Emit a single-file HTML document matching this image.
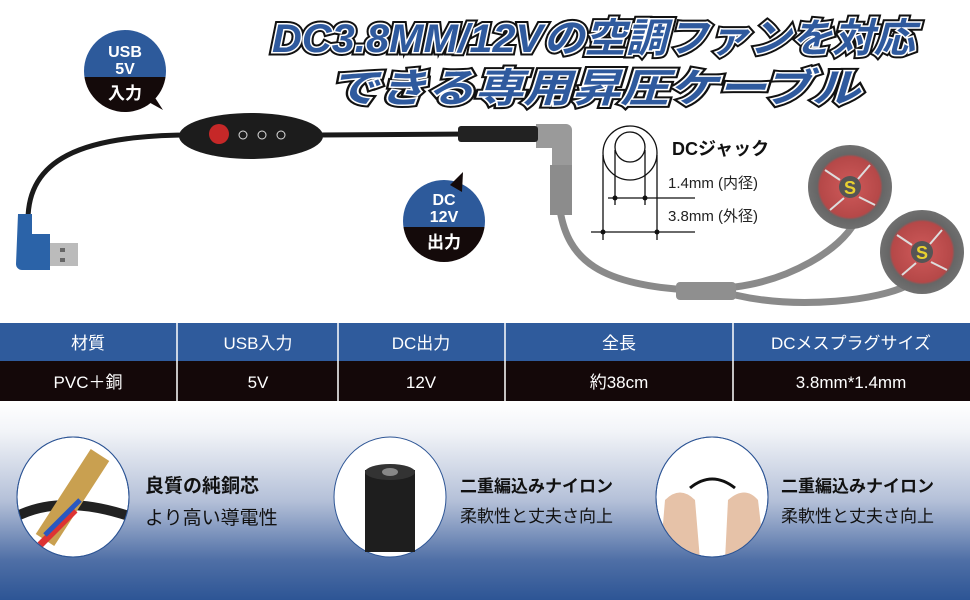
<!DOCTYPE html>
<html><head><meta charset="utf-8"><style>
html,body{margin:0;padding:0;background:#fff}
svg{display:block}
text{font-family:"Liberation Sans","Noto Sans CJK JP",sans-serif}
</style></head><body>
<svg width="970" height="600" viewBox="0 0 970 600" xmlns="http://www.w3.org/2000/svg">
<defs>
<linearGradient id="bg" x1="0" y1="0" x2="0" y2="1">
<stop offset="0" stop-color="#ffffff"/><stop offset="0.15" stop-color="#f2f4f8"/>
<stop offset="0.5" stop-color="#b4c0d8"/><stop offset="0.8" stop-color="#4f6fa6"/><stop offset="1" stop-color="#2d5595"/>
</linearGradient>
<clipPath id="c1"><circle cx="125" cy="71" r="41"/></clipPath>
<clipPath id="c2"><circle cx="444" cy="221" r="41"/></clipPath>
<clipPath id="e1"><ellipse cx="73" cy="497" rx="56" ry="60"/></clipPath>
<clipPath id="e3"><ellipse cx="712" cy="497" rx="56" ry="60"/></clipPath>
<radialGradient id="fan"><stop offset="0.2" stop-color="#c85555"/><stop offset="0.72" stop-color="#b54848"/><stop offset="0.78" stop-color="#666"/><stop offset="1" stop-color="#707070"/></radialGradient>
</defs>
<rect width="970" height="600" fill="#fff"/>
<rect y="402" width="970" height="198" fill="url(#bg)"/>

<!-- title -->
<g font-weight="bold" font-style="italic" fill="#2f5a9e" stroke="#fff" stroke-width="3" paint-order="stroke">
<text x="272" y="52" font-size="40" textLength="643" lengthAdjust="spacingAndGlyphs" style="paint-order:stroke;stroke:#111;stroke-width:7">DC3.8MM/12Vの空調ファンを対応</text>
<text x="272" y="52" font-size="40" textLength="643" lengthAdjust="spacingAndGlyphs">DC3.8MM/12Vの空調ファンを対応</text>
<text x="330" y="102" font-size="40" textLength="530" lengthAdjust="spacingAndGlyphs" style="paint-order:stroke;stroke:#111;stroke-width:7">できる専用昇圧ケーブル</text>
<text x="330" y="102" font-size="40" textLength="530" lengthAdjust="spacingAndGlyphs">できる専用昇圧ケーブル</text>
</g>

<!-- gray cable & fans -->
<g fill="none" stroke="#8a8a8a" stroke-width="7" stroke-linecap="round">
<path d="M560 210 C568 260 600 285 690 290"/>
<path d="M735 287 C790 280 840 250 855 222"/>
<path d="M735 295 C800 310 880 300 908 285"/>
</g>
<rect x="676" y="282" width="60" height="18" rx="4" fill="#8f8f8f"/>
<path d="M536 124 h30 a6 6 0 0 1 6 6 v80 h-20 v-62 h-16z" fill="#9a9a9a"/>
<rect x="550" y="165" width="22" height="50" fill="#8c8c8c"/>
<circle cx="850" cy="187" r="42" fill="url(#fan)"/>
<g stroke="#ddd" stroke-width="2" fill="none"><path d="M825 170 l15 10 M870 165 l-12 14 M830 210 l14 -12 M875 205 l-16 -8"/></g>
<circle cx="850" cy="187" r="11" fill="#555"/><text x="850" y="194" font-size="18" font-weight="bold" fill="#e8d030" text-anchor="middle">S</text>
<circle cx="922" cy="252" r="42" fill="url(#fan)"/>
<g stroke="#ddd" stroke-width="2" fill="none"><path d="M897 235 l15 10 M942 230 l-12 14 M902 275 l14 -12 M947 270 l-16 -8"/></g>
<circle cx="922" cy="252" r="11" fill="#555"/><text x="922" y="259" font-size="18" font-weight="bold" fill="#e8d030" text-anchor="middle">S</text>

<!-- black cable -->
<path d="M28 220 C28 160 80 136 185 135 M320 135 L470 134" fill="none" stroke="#1a1a1a" stroke-width="5"/>
<ellipse cx="251" cy="136" rx="72" ry="23" fill="#1c1c1c"/>
<circle cx="219" cy="134" r="10" fill="#c62828"/>
<circle cx="243" cy="135" r="4" fill="none" stroke="#ddd"/>
<circle cx="262" cy="135" r="4" fill="none" stroke="#ddd"/>
<circle cx="281" cy="135" r="4" fill="none" stroke="#ddd"/>
<rect x="458" y="126" width="80" height="16" rx="3" fill="#222"/>
<path d="M18 214 h14 v20 h18 v36 h-28 a6 6 0 0 1 -6 -6z" fill="#2b63a8"/>
<rect x="50" y="243" width="28" height="23" fill="#bbb"/>
<rect x="60" y="248" width="5" height="4" fill="#666"/><rect x="60" y="258" width="5" height="4" fill="#666"/>

<!-- badges -->
<g clip-path="url(#c1)"><rect x="80" y="25" width="100" height="52" fill="#2d5a9b"/><rect x="80" y="77" width="100" height="40" fill="#140a0a"/></g>
<path d="M145 100 L163 110 L150 90z" fill="#140a0a"/>
<g fill="#fff" font-weight="bold" text-anchor="middle"><text x="125" y="57" font-size="16">USB</text><text x="125" y="74" font-size="16">5V</text><text x="125" y="99" font-size="17">入力</text></g>
<g clip-path="url(#c2)"><rect x="400" y="178" width="90" height="49" fill="#2d5a9b"/><rect x="400" y="227" width="90" height="40" fill="#140a0a"/></g>
<path d="M450 185 L463 172 L462 192z" fill="#140a0a"/>
<g fill="#fff" font-weight="bold" text-anchor="middle"><text x="444" y="205" font-size="16">DC</text><text x="444" y="222" font-size="16">12V</text><text x="444" y="248" font-size="17">出力</text></g>

<!-- jack diagram -->
<g fill="none" stroke="#111" stroke-width="1.3">
<circle cx="630" cy="153" r="27"/><circle cx="630" cy="147" r="15"/>
<path d="M615 150 V205 M645 150 V205 M603 155 V240 M657 155 V240 M608 198 H695 M591 232 H695"/>
</g>
<g fill="#111"><circle cx="615" cy="198" r="2.5"/><circle cx="645" cy="198" r="2.5"/><circle cx="603" cy="232" r="2.5"/><circle cx="657" cy="232" r="2.5"/></g>
<text x="672" y="155" font-size="18" font-weight="bold" fill="#111">DCジャック</text>
<text x="668" y="188" font-size="15" fill="#222">1.4mm (内径)</text>
<text x="668" y="221" font-size="15" fill="#222">3.8mm (外径)</text>

<!-- table -->
<rect x="0" y="323" width="970" height="38" fill="#2f5b9c"/>
<rect x="0" y="361" width="970" height="40" fill="#140809"/>
<g stroke="#fff" stroke-width="1.5"><path d="M177 323V401 M338 323V401 M505 323V401 M733 323V401"/></g>
<g fill="#fff" font-size="17" text-anchor="middle">
<text x="88" y="349">材質</text><text x="258" y="349">USB入力</text><text x="421" y="349">DC出力</text><text x="619" y="349">全長</text><text x="851" y="349">DCメスプラグサイズ</text>
<text x="88" y="388">PVC＋銅</text><text x="258" y="388">5V</text><text x="421" y="388">12V</text><text x="619" y="388">約38cm</text><text x="851" y="388">3.8mm*1.4mm</text>
</g>

<!-- feature circles -->
<ellipse cx="73" cy="497" rx="56" ry="60" fill="#fff" stroke="#2d5595"/>
<g clip-path="url(#e1)">
<path d="M10 520 Q60 490 140 520" stroke="#222" stroke-width="10" fill="none"/>
<path d="M45 540 L100 455" stroke="#c9a050" stroke-width="22"/>
<path d="M40 545 L75 510" stroke="#d33" stroke-width="7"/>
<path d="M45 535 L80 500" stroke="#2a58c0" stroke-width="5"/>
</g>
<ellipse cx="73" cy="497" rx="56" ry="60" fill="none" stroke="#2d5595"/>
<ellipse cx="390" cy="497" rx="56" ry="60" fill="#fff" stroke="#2d5595"/>
<rect x="365" y="470" width="50" height="82" fill="#1e1e1e"/>
<ellipse cx="390" cy="472" rx="25" ry="8" fill="#333"/>
<ellipse cx="390" cy="472" rx="8" ry="4" fill="#888"/>
<ellipse cx="712" cy="497" rx="56" ry="60" fill="#fff" stroke="#2d5595"/>
<g clip-path="url(#e3)">
<path d="M690 488 Q712 470 735 488" stroke="#111" stroke-width="3" fill="none"/>
<path d="M660 560 L665 500 Q680 485 695 500 L700 560z" fill="#e6c2a8"/>
<path d="M725 560 L728 500 Q745 485 758 500 L765 560z" fill="#e6c2a8"/>
</g>
<ellipse cx="712" cy="497" rx="56" ry="60" fill="none" stroke="#2d5595"/>
<g fill="#111">
<text x="145" y="492" font-size="19" font-weight="bold">良質の純銅芯</text>
<text x="145" y="524" font-size="19">より高い導電性</text>
<text x="460" y="492" font-size="17" font-weight="bold">二重編込みナイロン</text>
<text x="460" y="522" font-size="17">柔軟性と丈夫さ向上</text>
<text x="781" y="492" font-size="17" font-weight="bold">二重編込みナイロン</text>
<text x="781" y="522" font-size="17">柔軟性と丈夫さ向上</text>
</g>
</svg>
</body></html>
